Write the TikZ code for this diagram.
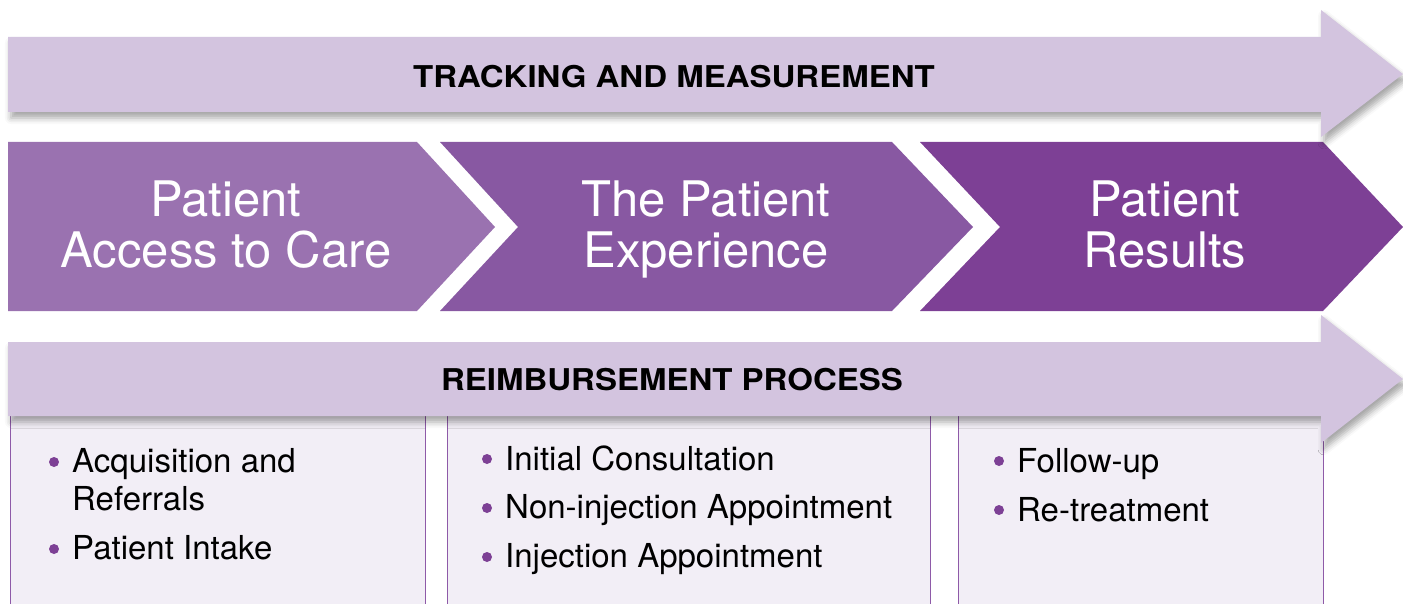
\documentclass[tikz,border=0pt]{standalone}
\usepackage{fontspec}
\setmainfont{TeX Gyre Heros}
\newfontfamily\widebold[FakeStretch=1.1]{TeX Gyre Heros Bold}
\usetikzlibrary{shadows.blur}
\definecolor{bandc}{HTML}{D3C4DF}
\definecolor{chevA}{HTML}{9A72B0}
\definecolor{chevB}{HTML}{8858A2}
\definecolor{chevC}{HTML}{7D4095}
\definecolor{boxfill}{HTML}{F2EEF6}
\definecolor{boxline}{HTML}{8E5AA8}
\definecolor{dotc}{HTML}{7D4095}
\tikzset{
  band/.style={fill=bandc, blur shadow={shadow xshift=3pt, shadow yshift=-6pt, shadow blur radius=6pt, shadow opacity=35}},
  bandtext/.style={font=\widebold\fontsize{30}{32}\selectfont, text=black, inner sep=0pt},
  chevtext/.style={font=\fontsize{49}{52}\selectfont, text=white, align=center, inner sep=0pt, anchor=base},
  listbox/.style={fill=boxfill, draw=boxline, line width=1pt},
  item/.style={font=\fontsize{33}{38}\selectfont, text=black, inner sep=0pt, anchor=base west, align=left},
  dot/.style={circle, fill=dotc, minimum size=10pt, inner sep=0pt}
}
\begin{document}
\begin{tikzpicture}[x=1pt,y=-1pt]
\useasboundingbox (0,0) rectangle (1403,604);
\clip (0,0) rectangle (1403,604);
% boxes
\draw[listbox] (10,400) rectangle (425,640);
\draw[listbox] (447,400) rectangle (930,640);
\draw[listbox] (958,400) rectangle (1323,640);
% chevrons
\fill[chevA] (8,142) -- (417,142) -- (495,227) -- (417,311) -- (8,311) -- cycle;
\fill[chevB] (440,142) -- (892,142) -- (973,227) -- (892,311) -- (440,311) -- (518,227) -- cycle;
\fill[chevC] (920,142) -- (1323,142) -- (1403,227) -- (1323,311) -- (920,311) -- (1000,227) -- cycle;
% bands
\path[band] (8,37) -- (1321,37) -- (1321,10) -- (1403,74) -- (1321,137) -- (1321,112) -- (8,112) -- cycle;
\path[band] (8,342) -- (1321,342) -- (1321,315) -- (1403,379) -- (1321,443) -- (1321,416) -- (8,416) -- cycle;
% band texts
\node[bandtext] (track) at (674,77) {TRACKING AND MEASUREMENT};
\node[bandtext] (reimb) at (672,380) {REIMBURSEMENT PROCESS};
% chevron texts
\node[chevtext] (c1a) at (226,217) {Patient};
\node[chevtext] (c1b) at (226,267) {Access to Care};
\node[chevtext] (c2a) at (706,217) {The Patient};
\node[chevtext] (c2b) at (706,267) {Experience};
\node[chevtext] (c3a) at (1165,217) {Patient};
\node[chevtext] (c3b) at (1165,267) {Results};
% box 1
\node[dot] (d1) at (54,462) {};
\node[item] (t1) at (72,472) {Acquisition and};
\node[item] (t1b) at (72,510) {Referrals};
\node[dot] (d2) at (54,549) {};
\node[item] (t2) at (72,559) {Patient Intake};
% box 2
\node[dot] (d3) at (487,459) {};
\node[item] (t3) at (505,470) {Initial Consultation};
\node[dot] (d4) at (487,508) {};
\node[item] (t4) at (505,518) {Non-injection Appointment};
\node[dot] (d5) at (487,557) {};
\node[item] (t5) at (505,567) {Injection Appointment};
% box 3
\node[dot] (d6) at (999,461) {};
\node[item] (t6) at (1017,472) {Follow-up};
\node[dot] (d7) at (999,510) {};
\node[item] (t7) at (1017,521) {Re-treatment};
\end{tikzpicture}
\end{document}
